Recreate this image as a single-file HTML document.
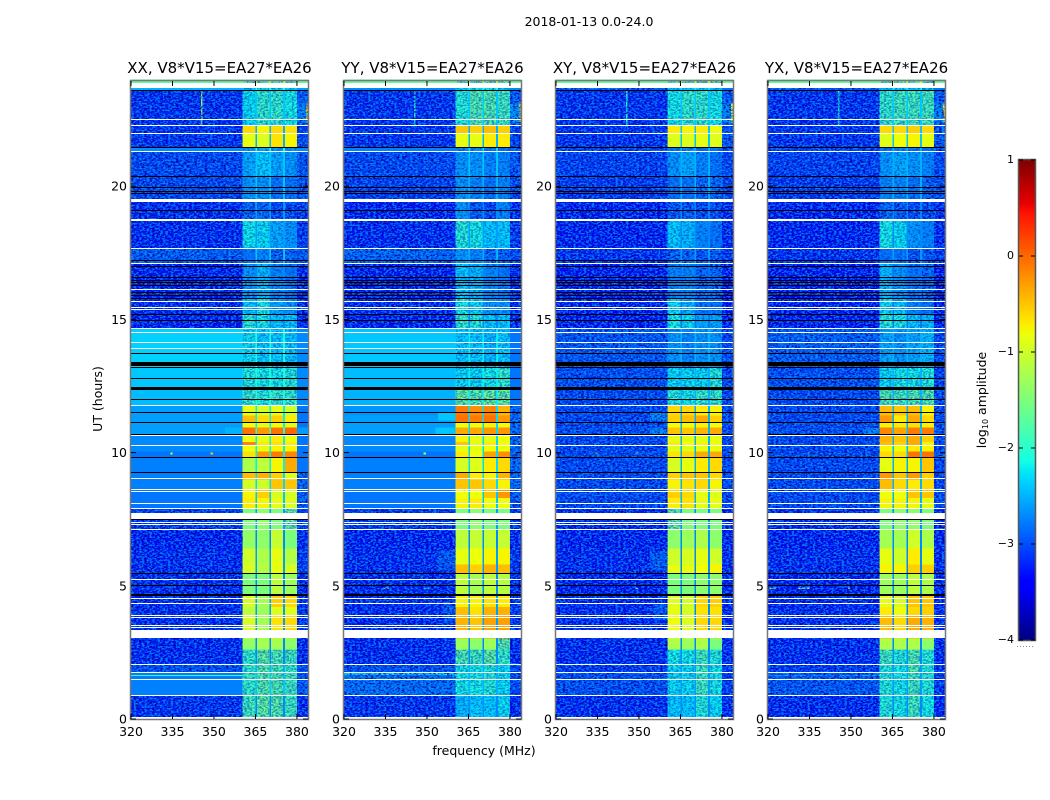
<!DOCTYPE html>
<html>
<head>
<meta charset="utf-8">
<title>2018-01-13 amplitude waterfall</title>
<style>
html,body{margin:0;padding:0;background:#fff}
svg{display:block}
text{font-family:"DejaVu Sans","Liberation Sans",sans-serif;fill:#000}
</style>
</head>
<body>
<svg id="chart" xmlns="http://www.w3.org/2000/svg" width="1050" height="800" viewBox="0 0 1050 800">
<defs>
<!-- Presentation-only grain: pixel noise in the reference is not readable as data -->
<filter id="grainDark" x="0" y="0" width="100%" height="100%" color-interpolation-filters="sRGB">
<feTurbulence type="fractalNoise" baseFrequency="0.38 0.6" numOctaves="2" seed="4"/>
<feColorMatrix type="matrix" values="0 0 0 0 0  0 0 0 0 0  0 0 0 0 0.6  6 0 0 0 -2.75"/>
</filter>
<filter id="grainLight" x="0" y="0" width="100%" height="100%" color-interpolation-filters="sRGB">
<feTurbulence type="fractalNoise" baseFrequency="0.38 0.6" numOctaves="2" seed="11"/>
<feColorMatrix type="matrix" values="0 0 0 0 0  0 0 0 0 0.62  0 0 0 0 1  0 6 0 0 -2.75"/>
</filter>
</defs>
<text x="589" y="26" font-size="12.5" text-anchor="middle">2018-01-13 0.0-24.0</text>
<text x="484" y="755" font-size="12.5" text-anchor="middle">frequency (MHz)</text>
<text transform="translate(102,399) rotate(-90)" font-size="12.5" text-anchor="middle">UT (hours)</text>
<text transform="translate(986,400) rotate(-90)" font-size="12.5" text-anchor="middle">log<tspan font-size="8" dy="2">10</tspan><tspan dy="-2"> amplitude</tspan></text>
<g id="panels"></g>
<g id="colorbar"></g>
</svg>
<script>
// Axis tick labels
const freqTicks = [320, 335, 350, 365, 380];
const timeTicks = [0, 5, 10, 15, 20];
const colorTicks = [1, 0, -1, -2, -3, -4];

// Panel titles
const panelTitles = [
  "XX, V8*V15=EA27*EA26",
  "YY, V8*V15=EA27*EA26",
  "XY, V8*V15=EA27*EA26",
  "YX, V8*V15=EA27*EA26"
];

// Time band edges in UT hours, top to bottom (one more than the rows below)
const bandEdges = [24,23.75,23.6,22.3,21.98,21.46,21.28,20.35,19.4,18.7,17.67,17.11,15.79,15.2,14.65,13.2,12.43,11.78,11.4,11.15,10.95,10.66,10.4,10.27,10.05,9.82,9.26,9.0,8.6,8.3,7.9,7.12,6.4,5.8,5.47,4.66,4.2,3.89,3.03,2.6,2.05,1.75,0.89,0];

// Frequency regions in MHz: quiet left, four sub-bands, quiet right
const regionEdges = [[320,360.4],[360.4,365],[365.6,370],[370.7,375],[375.7,380],[380,384]];
const gapEdges = [[365,365.6],[370,370.7],[375,375.7]];

// log10 amplitude per band: [left, sub1, sub2, sub3, sub4, right]
const levelsXX = [
[-1.7,-1.7,-1.7,-1.7,-1.7,-1.7],[-2.5,-2.3,-2.2,-2.2,-2.3,-2.6],[-3.25,-2.2,-1.9,-1.9,-2.1,-3.0],
[-3.25,-0.6,-0.75,-0.6,-0.65,-3.1],[-3.25,-0.85,-0.9,-0.65,-0.75,-3.1],[-2.7,-2.6,-2.5,-2.6,-2.6,-2.7],
[-3.1,-2.5,-2.3,-2.5,-2.6,-3.0],[-3.1,-2.6,-2.6,-2.8,-2.8,-3.0],[-3.3,-2.9,-2.9,-3.1,-3.1,-3.2],
[-3.3,-2.15,-2.2,-2.5,-2.6,-3.2],[-2.95,-2.8,-2.7,-2.9,-2.9,-3.0],[-3.35,-2.6,-2.4,-2.7,-2.8,-3.3],
[-3.3,-2.3,-2.1,-2.5,-2.6,-3.3],[-3.35,-2.0,-2.1,-2.3,-2.3,-3.3],[-2.35,-2.2,-2.3,-2.3,-2.3,-2.7],
[-2.4,-2.0,-2.1,-2.1,-2.0,-2.7],[-2.45,-1.9,-2.0,-1.9,-1.9,-2.7],
[-2.6,-0.85,-0.95,-0.85,-1.0,-2.8],[-2.6,-0.45,-0.6,-0.55,-0.7,-2.8],[-2.6,-0.8,-0.85,-0.8,-0.85,-2.8],
[-2.6,-0.05,-0.25,-0.05,0.0,-2.6],[-2.7,-0.8,-0.85,-0.7,-0.8,-2.8],[-2.7,-0.15,-0.7,-0.65,-0.7,-2.8],
[-2.7,-0.8,-0.85,-0.75,-0.75,-2.8],[-2.8,-0.65,-0.25,-0.1,-0.15,-2.8],[-2.75,-1.2,-1.1,-0.75,-0.35,-2.8],
[-2.75,-0.45,-0.4,-0.55,-0.9,-2.9],[-2.75,-0.95,-1.0,-0.5,-0.5,-2.9],[-2.8,-0.75,-0.55,-0.95,-0.95,-3.0],
[-2.8,-0.7,-0.75,-0.85,-0.9,-3.0],[-3.2,-1.5,-1.4,-1.5,-1.6,-3.2],[-3.35,-1.35,-1.4,-1.05,-1.5,-3.3],
[-3.3,-1.0,-1.2,-0.85,-1.15,-3.2],[-3.3,-0.95,-1.15,-0.85,-0.95,-3.2],[-3.3,-1.5,-1.5,-1.1,-1.3,-3.3],
[-3.3,-0.95,-1.25,-0.55,-0.6,-3.2],[-3.3,-1.1,-1.3,-0.9,-0.9,-3.2],[-3.3,-0.95,-1.25,-0.65,-0.6,-3.2],
[-3.3,-1.35,-1.25,-1.25,-1.4,-3.3],[-3.3,-1.9,-1.6,-1.7,-1.8,-3.3],[-3.05,-1.9,-1.65,-1.75,-1.85,-3.1],
[-2.75,-1.9,-1.65,-1.7,-1.8,-3.0],[-3.25,-1.8,-1.6,-1.65,-1.8,-3.3]
];
const levelsYY = [
[-1.7,-1.7,-1.7,-1.7,-1.7,-1.7],[-2.7,-2.3,-2.2,-2.2,-2.3,-2.7],[-3.25,-2.0,-1.7,-1.7,-1.8,-3.0],
[-3.25,-0.5,-0.55,-0.45,-0.55,-3.1],[-3.25,-0.85,-0.85,-0.7,-0.7,-3.1],[-2.75,-2.7,-2.6,-2.7,-2.8,-2.9],
[-3.1,-2.6,-2.6,-2.7,-2.7,-3.0],[-3.15,-2.6,-2.7,-2.8,-2.7,-3.1],[-3.35,-2.6,-3.0,-3.1,-2.7,-3.3],
[-3.3,-2.0,-2.1,-2.3,-2.3,-3.2],[-2.9,-2.6,-2.7,-2.9,-2.9,-3.1],[-3.35,-2.3,-2.4,-2.7,-2.8,-3.3],
[-3.3,-2.1,-2.2,-2.6,-2.6,-3.3],[-3.35,-1.9,-2.0,-2.3,-2.3,-3.3],[-2.4,-2.3,-2.3,-2.4,-2.3,-2.8],
[-2.45,-2.2,-2.2,-2.1,-1.9,-2.8],[-2.5,-1.6,-1.7,-1.6,-1.6,-2.8],
[-2.65,-0.1,-0.2,-0.15,-0.4,-2.9],[-2.6,-0.05,-0.1,-0.05,-0.25,-2.9],[-2.6,-0.8,-0.8,-0.75,-0.8,-2.9],
[-2.6,-0.35,-0.35,-0.25,-0.25,-2.9],[-2.7,-0.75,-0.85,-0.85,-0.8,-2.9],[-2.7,-0.5,-0.85,-0.7,-0.8,-2.9],
[-2.7,-0.85,-0.85,-0.8,-0.8,-2.9],[-2.8,-0.7,-0.8,-0.3,-0.2,-2.9],[-2.75,-0.95,-0.9,-0.7,-0.6,-2.9],
[-2.75,-0.35,-0.7,-0.75,-0.4,-2.9],[-2.75,-0.5,-0.5,-0.6,-0.75,-2.9],[-2.8,-0.8,-0.8,-0.5,-0.25,-3.0],
[-2.8,-0.75,-0.7,-0.8,-0.8,-3.0],[-3.2,-1.5,-1.4,-1.5,-1.5,-3.2],[-3.35,-1.1,-1.05,-1.05,-1.05,-3.3],
[-3.3,-0.85,-0.8,-0.75,-0.75,-3.2],[-3.3,-0.45,-0.55,-0.4,-0.45,-3.2],[-3.3,-1.1,-1.25,-1.1,-1.15,-3.3],
[-3.3,-0.75,-0.75,-0.65,-0.7,-3.2],[-3.3,-0.45,-0.65,-0.4,-0.4,-3.2],[-3.3,-0.4,-0.5,-0.3,-0.3,-3.2],
[-3.3,-1.3,-1.4,-1.3,-1.6,-3.3],[-3.3,-1.7,-1.8,-1.6,-1.9,-3.3],[-3.05,-2.1,-2.1,-2.0,-2.2,-3.1],
[-2.85,-2.1,-2.1,-2.0,-2.2,-3.1],[-3.25,-2.4,-2.3,-2.3,-2.2,-3.3]
];
const levelsXY = [
[-1.7,-1.7,-1.7,-1.7,-1.7,-1.7],[-3.0,-2.4,-2.3,-2.3,-2.4,-2.8],[-3.25,-2.1,-1.9,-1.9,-2.1,-3.0],
[-3.25,-0.7,-0.75,-0.7,-0.8,-3.0],[-3.25,-0.9,-0.9,-0.85,-0.9,-3.0],[-3.1,-2.8,-2.7,-2.8,-2.8,-3.1],
[-3.15,-2.6,-2.5,-2.7,-2.8,-3.1],[-3.2,-2.8,-2.8,-2.9,-2.9,-3.1],[-3.35,-3.0,-3.0,-3.1,-3.1,-3.3],
[-3.35,-2.3,-2.4,-2.7,-2.8,-3.3],[-3.25,-2.9,-2.9,-3.0,-3.0,-3.2],[-3.45,-2.7,-2.7,-2.9,-2.9,-3.4],
[-3.4,-2.2,-2.4,-2.8,-2.8,-3.4],[-3.4,-2.1,-2.2,-2.5,-2.5,-3.4],[-3.0,-2.6,-2.7,-2.6,-2.6,-3.1],
[-3.05,-2.2,-2.2,-2.2,-2.0,-3.1],[-3.1,-2.0,-2.1,-1.9,-1.9,-3.1],
[-3.1,-0.6,-0.6,-0.7,-0.75,-3.1],[-3.1,-0.55,-0.45,-0.35,-0.55,-3.1],[-3.1,-0.8,-0.8,-0.75,-0.8,-3.1],
[-3.05,-0.5,-0.5,-0.4,-0.35,-3.1],[-3.1,-0.85,-0.85,-0.85,-0.85,-3.1],[-3.1,-0.7,-0.8,-0.75,-0.8,-3.1],
[-3.1,-0.9,-0.9,-0.85,-0.85,-3.1],[-3.1,-0.65,-0.6,-0.35,-0.35,-3.1],[-3.1,-0.95,-0.85,-0.7,-0.6,-3.1],
[-3.1,-0.55,-0.5,-0.5,-0.6,-3.1],[-3.1,-0.75,-0.65,-0.6,-0.75,-3.1],[-3.1,-0.55,-0.6,-0.85,-0.9,-3.1],
[-3.1,-0.7,-0.65,-0.85,-0.85,-3.1],[-3.3,-1.6,-1.5,-1.5,-1.5,-3.3],[-3.35,-1.4,-1.3,-1.2,-1.4,-3.3],
[-3.3,-1.0,-0.95,-0.85,-1.0,-3.3],[-3.3,-0.85,-0.85,-0.8,-0.75,-3.3],[-3.35,-1.5,-1.5,-1.4,-1.4,-3.3],
[-3.3,-0.9,-1.0,-0.6,-0.55,-3.3],[-3.3,-0.85,-0.95,-0.65,-0.65,-3.3],[-3.3,-0.8,-0.9,-0.6,-0.6,-3.3],
[-3.3,-1.2,-1.3,-1.2,-1.5,-3.3],[-3.3,-2.1,-2.1,-1.8,-2.0,-3.3],[-3.2,-2.2,-2.2,-1.8,-2.1,-3.2],
[-3.05,-2.2,-2.2,-1.8,-2.1,-3.2],[-3.3,-2.3,-2.3,-2.0,-2.2,-3.3]
];
const levelsYX = [
[-1.7,-1.7,-1.7,-1.7,-1.7,-1.7],[-3.0,-2.4,-2.3,-2.3,-2.4,-2.8],[-3.25,-1.9,-1.8,-1.8,-1.8,-3.0],
[-3.25,-0.6,-0.6,-0.55,-0.6,-3.0],[-3.25,-0.9,-0.8,-0.75,-0.85,-3.0],[-3.1,-2.8,-2.7,-2.8,-2.8,-3.1],
[-3.15,-2.6,-2.5,-2.6,-2.7,-3.1],[-3.2,-2.7,-2.7,-2.8,-2.9,-3.1],[-3.35,-2.9,-3.0,-3.1,-3.1,-3.3],
[-3.35,-2.1,-2.2,-2.6,-2.7,-3.3],[-3.25,-2.8,-2.8,-3.0,-3.0,-3.2],[-3.45,-2.4,-2.6,-2.8,-2.9,-3.4],
[-3.4,-2.2,-2.3,-2.7,-2.8,-3.4],[-3.4,-2.0,-2.1,-2.3,-2.4,-3.4],[-2.95,-2.5,-2.6,-2.5,-2.4,-3.1],
[-3.05,-2.2,-2.1,-2.1,-2.0,-3.1],[-3.1,-1.7,-1.8,-1.7,-1.7,-3.1],
[-3.1,-0.45,-0.5,-0.45,-0.75,-3.1],[-3.1,-0.25,-0.7,-0.35,-0.6,-3.1],[-3.1,-0.75,-0.7,-0.65,-0.75,-3.1],
[-3.05,-0.15,-0.3,-0.1,-0.1,-3.0],[-3.1,-0.4,-0.5,-0.35,-0.55,-3.1],[-3.1,-0.45,-0.55,-0.35,-0.75,-3.1],
[-3.1,-0.75,-0.8,-0.7,-0.75,-3.1],[-3.1,-0.6,-0.6,-0.05,-0.05,-3.0],[-3.1,-0.85,-0.75,-0.75,-0.5,-3.1],
[-3.1,-0.25,-0.5,-0.25,-0.55,-3.1],[-3.1,-0.45,-0.6,-0.7,-0.6,-3.1],[-3.1,-0.8,-0.8,-0.5,-0.5,-3.1],
[-3.1,-0.75,-0.75,-0.75,-0.85,-3.1],[-3.3,-1.5,-1.4,-1.4,-1.5,-3.3],[-3.35,-1.25,-1.25,-1.0,-1.2,-3.3],
[-3.3,-0.85,-1.0,-0.7,-0.85,-3.3],[-3.3,-0.75,-0.75,-0.55,-0.55,-3.3],[-3.35,-1.3,-1.3,-1.1,-1.2,-3.3],
[-3.3,-0.85,-0.95,-0.5,-0.5,-3.3],[-3.3,-0.7,-0.8,-0.6,-0.55,-3.3],[-3.3,-0.45,-0.6,-0.35,-0.4,-3.3],
[-3.3,-1.2,-1.2,-1.2,-1.4,-3.3],[-3.3,-1.8,-2.0,-1.7,-2.0,-3.3],[-3.2,-2.0,-2.1,-1.7,-2.0,-3.2],
[-3.0,-2.0,-2.1,-1.8,-2.0,-3.2],[-3.3,-2.0,-2.1,-1.8,-2.1,-3.3]
];
const panelLevels = [levelsXX, levelsYY, levelsXY, levelsYX];

// Narrow RFI features: [freq start, freq end, UT top, UT bottom, log10 amplitude]
const rfiFeatures = [
  [[345.3,345.9,23.6,22.3,-1.1],[380,384,23.1,22.4,-2.7],[383.2,384,23.1,22.4,-0.6],[334.2,335,10.0,9.93,-0.9],[348.8,349.6,10.0,9.93,-0.5],[334.2,335,4.94,4.88,-1.0],[348.8,349.6,4.94,4.88,-1.0],[354,360.4,10.95,10.66,-2.5],[320,360.4,1.65,1.62,-1.9]],
  [[345.3,345.9,23.6,22.3,-2.0],[380,384,23.1,22.4,-2.6],[383.2,384,23.1,22.4,-0.4],[348.8,349.6,10.0,9.93,-1.2],[334.2,336,4.94,4.88,-1.4],[348.8,351,4.94,4.88,-1.9],[354,360.4,6.3,5.6,-3.0],[356,360.4,4.4,3.6,-3.0],[354,360.4,11.5,11.2,-2.4],[353,360.4,10.95,10.66,-2.4],[320,360.4,1.75,1.65,-2.2]],
  [[345.3,345.9,23.6,22.3,-2.0],[380,384,23.1,22.4,-2.7],[383.2,384,23.1,22.4,-0.9],[334.2,335,10.0,9.93,-1.3],[348.8,349.6,10.0,9.93,-1.3],[348.8,349.6,4.94,4.88,-1.6],[354,360.4,6.3,5.6,-3.0],[355,360.4,4.3,3.7,-3.0],[354,360.4,11.5,11.2,-2.7],[354,360.4,10.95,10.66,-2.7]],
  [[345.3,345.9,23.6,22.3,-2.0],[380,384,23.1,22.4,-2.7],[383.2,384,23.1,22.4,-0.6],[334.2,335,10.0,9.93,-1.8],[320.5,323,4.94,4.88,-1.3],[331,335,4.94,4.88,-1.2],[349,350,4.94,4.88,-1.0],[355,360.4,10.95,10.66,-2.7],[320,360.4,1.65,1.62,-2.4]]
];

// Rows flagged with no data (white), UT centre and thickness in hours
const whiteFlagUT = [23.8,22.51,22.28,21.98,21.28,19.455,18.76,18.69,17.67,17.11,16.12,15.68,15.45,15.35,14.65,14.51,14.13,13.91,11.78,10.62,10.27,9.03,8.6,8.54,8.09,7.9,7.645,7.37,7.29,7.12,5.24,4.51,4.34,3.89,3.82,3.5,3.44,3.185,2.05,1.75,1.49,0.89,0.05];
const whiteFlagThickness = [0.17,0.05,0.05,0.05,0.05,0.12,0.05,0.05,0.05,0.05,0.05,0.05,0.05,0.05,0.05,0.05,0.05,0.05,0.05,0.05,0.05,0.05,0.05,0.05,0.05,0.05,0.21,0.05,0.05,0.05,0.05,0.05,0.05,0.05,0.05,0.05,0.05,0.31,0.05,0.05,0.05,0.05,0.06];

// Rows with near-zero amplitude (black), UT centre and thickness in hours
const blackFlagUT = [23.61,21.46,20.35,19.96,19.79,19.74,19.1,17.2,16.97,16.59,16.47,16.37,16.26,16.02,15.91,15.79,15.19,14.97,13.72,13.32,13.21,12.78,12.43,11.98,11.49,11.12,10.66,9.82,9.26,7.52,5.47,5.02,4.66];
const blackFlagThickness = [0.04,0.04,0.04,0.04,0.04,0.04,0.04,0.04,0.04,0.04,0.04,0.04,0.04,0.04,0.04,0.04,0.04,0.04,0.04,0.14,0.04,0.04,0.1,0.04,0.04,0.04,0.07,0.04,0.04,0.07,0.04,0.04,0.07];

const NS = "http://www.w3.org/2000/svg";
const panelLefts = [131, 344, 556, 768];
const panelWidth = 177;
const plotTop = 81;
const plotBottom = 719;
const freqMin = 320, freqMax = 384, utMin = 0, utMax = 23.95;
const pxPerHour = (plotBottom - plotTop) / (utMax - utMin);

function jet(f) {
  f = Math.max(0, Math.min(1, f));
  const ramp = (pts) => {
    for (let i = 1; i < pts.length; i++) {
      if (f <= pts[i][0]) {
        const t = (f - pts[i - 1][0]) / (pts[i][0] - pts[i - 1][0]);
        return pts[i - 1][1] + t * (pts[i][1] - pts[i - 1][1]);
      }
    }
    return pts[pts.length - 1][1];
  };
  const r = ramp([[0,0],[0.35,0],[0.66,1],[0.89,1],[1,0.5]]);
  const g = ramp([[0,0],[0.125,0],[0.375,1],[0.64,1],[0.91,0],[1,0]]);
  const b = ramp([[0,0.5],[0.11,1],[0.34,1],[0.65,0],[1,0]]);
  return "rgb(" + Math.round(r * 255) + "," + Math.round(g * 255) + "," + Math.round(b * 255) + ")";
}
function colorOf(level) { return jet((level + 4) / 5); }
function yScale(ut) { return plotBottom - (ut - utMin) * pxPerHour; }
function make(tag, attrs, parent) {
  const el = document.createElementNS(NS, tag);
  for (const k in attrs) el.setAttribute(k, attrs[k]);
  parent.appendChild(el);
  return el;
}

const svgRoot = document.getElementById("chart");
const defsEl = svgRoot.querySelector("defs");
const panelsG = document.getElementById("panels");
panelTitles.forEach((title, p) => {
  const left = panelLefts[p];
  const xScale = (fr) => left + (fr - freqMin) * panelWidth / (freqMax - freqMin);
  const levels = panelLevels[p];
  const g = make("g", {}, panelsG);
  
  

  const titleEl = make("text", {x: left + panelWidth / 2, y: 73, "font-size": 15, "text-anchor": "middle"}, g);
  
  
  titleEl.textContent = title;

  const plot = make("g", {"shape-rendering": "crispEdges"}, g);
  
  

  // Grain strength follows the amplitude: faint regions are noisy, bright ones smooth
  const clipQuiet = make("clipPath", {id: "clip-quiet-" + p}, defsEl);
  const clipFaint = make("clipPath", {id: "clip-faint-" + p}, defsEl);

  levels.forEach((row, b) => {
    const y0 = yScale(bandEdges[b]);
    const y1 = yScale(bandEdges[b + 1]);
    regionEdges.forEach((reg, c) => {
      const cx = xScale(reg[0]);
      const cw = xScale(reg[1]) - cx;
      const cell = make("rect", {x: cx, y: y0, width: cw, height: y1 - y0, fill: colorOf(row[c])}, plot);
      
      
      const isSubBand = c >= 1 && c <= 4;
      if (row[c] <= -2.85) make("rect", {x: cx, y: y0, width: cw, height: y1 - y0}, clipQuiet);
      else if (isSubBand && row[c] <= -1.6) make("rect", {x: cx, y: y0, width: cw, height: y1 - y0}, clipFaint);
    });
    gapEdges.forEach((gap) => {
      const gapCell = make("rect", {x: xScale(gap[0]), y: y0, width: xScale(gap[1]) - xScale(gap[0]), height: y1 - y0, fill: colorOf(row[5] + 0.6)}, plot);
      
      
    });
  });

  rfiFeatures[p].forEach((d) => {
    const rfi = make("rect", {x: xScale(d[0]), y: yScale(d[2]), width: xScale(d[1]) - xScale(d[0]), height: Math.max(1, yScale(d[3]) - yScale(d[2])), fill: colorOf(d[4])}, plot);
    
    
  });

  const quietGrain = make("g", {"clip-path": "url(#clip-quiet-" + p + ")"}, g);
  
  
  make("rect", {x: left, y: plotTop, width: panelWidth, height: plotBottom - plotTop, filter: "url(#grainDark)", opacity: 0.8}, quietGrain);
  make("rect", {x: left, y: plotTop, width: panelWidth, height: plotBottom - plotTop, filter: "url(#grainLight)", opacity: 0.75}, quietGrain);

  const faintGrain = make("g", {"clip-path": "url(#clip-faint-" + p + ")"}, g);
  
  
  make("rect", {x: left, y: plotTop, width: panelWidth, height: plotBottom - plotTop, filter: "url(#grainDark)", opacity: 0.45}, faintGrain);
  make("rect", {x: left, y: plotTop, width: panelWidth, height: plotBottom - plotTop, filter: "url(#grainLight)", opacity: 0.45}, faintGrain);

  const flags = make("g", {"shape-rendering": "crispEdges"}, g);
  
  
  blackFlagUT.forEach((ut, i) => {
    const line = make("rect", {x: left, y: Math.round(yScale(ut + blackFlagThickness[i] / 2)), width: panelWidth, height: Math.max(1, Math.round(blackFlagThickness[i] * pxPerHour)), fill: "#000"}, flags);
    
    
  });
  whiteFlagUT.forEach((ut, i) => {
    const line = make("rect", {x: left, y: Math.round(yScale(ut + whiteFlagThickness[i] / 2)), width: panelWidth, height: Math.max(1, Math.round(whiteFlagThickness[i] * pxPerHour)), fill: "#fff"}, flags);
    
    
  });

  const frame = make("rect", {x: left - 0.5, y: plotTop - 0.5, width: panelWidth + 1, height: plotBottom - plotTop + 1, fill: "none", stroke: "#777", "stroke-width": 1.5}, g);
  
  

  freqTicks.forEach((t) => {
    const x = xScale(t);
    const topTick = make("line", {x1: x, x2: x, y1: plotTop, y2: plotTop + 5, stroke: "#000", "stroke-width": 1}, g);
    
    
    const botTick = make("line", {x1: x, x2: x, y1: plotBottom, y2: plotBottom - 5, stroke: "#000", "stroke-width": 1}, g);
    
    
    const lab = make("text", {x: x, y: plotBottom + 17, "font-size": 12.5, "text-anchor": "middle"}, g);
    
    
    lab.textContent = t;
  });
  timeTicks.forEach((t) => {
    const y = yScale(t);
    const leftTick = make("line", {x1: left, x2: left + 5, y1: y, y2: y, stroke: "#000", "stroke-width": 1}, g);
    
    
    const rightTick = make("line", {x1: left + panelWidth, x2: left + panelWidth - 5, y1: y, y2: y, stroke: "#000", "stroke-width": 1}, g);
    
    
    const lab = make("text", {x: left - 4, y: y + 4.5, "font-size": 12.5, "text-anchor": "end"}, g);
    
    
    lab.textContent = t;
  });
});

// Colorbar
const cbG = document.getElementById("colorbar");
const cbLeft = 1019, cbRight = 1035, cbTop = 160, cbBottom = 640;
const cbY = (v) => cbBottom - (v + 4) * (cbBottom - cbTop) / 5;
const cbSwatches = make("g", {"shape-rendering": "crispEdges"}, cbG);


for (let v = -4; v < 1; v += 0.02) {
  const sw = make("rect", {x: cbLeft, y: cbY(v + 0.02), width: cbRight - cbLeft, height: cbY(v) - cbY(v + 0.02) + 0.5, fill: colorOf(v + 0.01)}, cbSwatches);
  
  
}
const cbFrame = make("rect", {x: cbLeft - 0.5, y: cbTop - 0.5, width: cbRight - cbLeft + 1, height: cbBottom - cbTop + 1, fill: "none", stroke: "#555", "stroke-width": 1.5}, cbG);


colorTicks.forEach((t) => {
  const y = cbY(t);
  const a = make("line", {x1: cbLeft, x2: cbLeft + 4, y1: y, y2: y, stroke: "#000"}, cbG);
  
  
  const b = make("line", {x1: cbRight, x2: cbRight - 4, y1: y, y2: y, stroke: "#000"}, cbG);
  
  
  const lab = make("text", {x: cbLeft - 5, y: y + 3, "font-size": 11, "text-anchor": "end"}, cbG);
  
  
  lab.textContent = t < 0 ? "\u2212" + Math.abs(t) : String(t);
});
const dots = make("line", {x1: cbLeft - 2, x2: cbRight, y1: 646.5, y2: 646.5, stroke: "#888", "stroke-width": 1, "stroke-dasharray": "1 2"}, cbG);


</script>
</body>
</html>
